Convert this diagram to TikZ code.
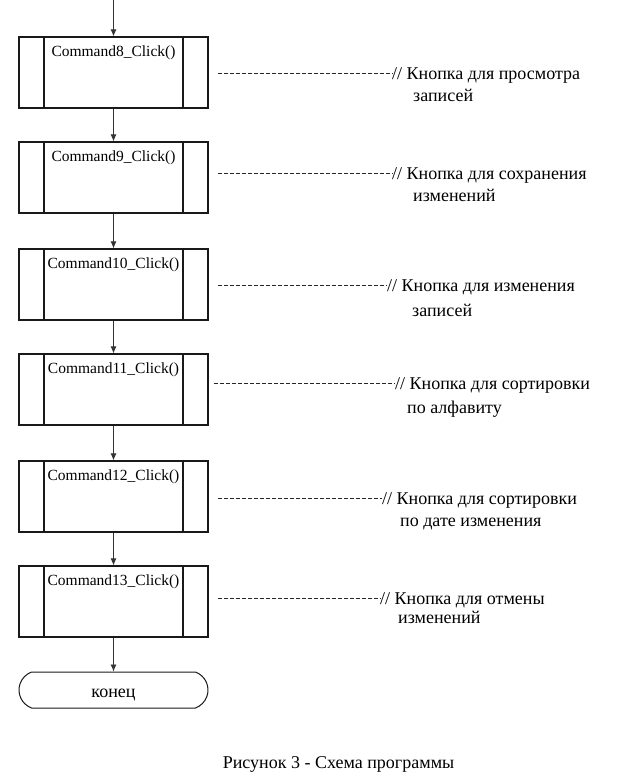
\documentclass[tikz,border=0pt]{standalone}
\usepackage{fontspec}
\setmainfont{Liberation Serif}
\usetikzlibrary{arrows.meta,shapes.misc,calc}
\tikzset{
  proc/.style={draw=black!90, line width=1.2pt, rectangle, minimum width=189pt, minimum height=71pt, inner sep=0pt,
    path picture={\draw[line width=1.2pt] ([xshift=25pt]path picture bounding box.north west) -- ([xshift=25pt]path picture bounding box.south west);
                  \draw[line width=1.2pt] ([xshift=-25pt]path picture bounding box.north east) -- ([xshift=-25pt]path picture bounding box.south east);}},
  cmdtxt/.style={font=\fontsize{15.5}{18}\selectfont, inner sep=0pt, anchor=base},
  term/.style={draw=black!90, line width=1pt, rounded rectangle, rounded rectangle arc length=140, minimum width=189pt, minimum height=36pt, inner sep=0pt, text height=14pt, text depth=0pt, font=\fontsize{18}{20}\selectfont},
  flow/.style={draw=black!80, line width=0.8pt, -{Latex[length=7pt,width=6pt]}},
  dashln/.style={draw=black!85, line width=0.8pt, dash pattern=on 4pt off 2pt},
  cmt/.style={font=\fontsize{18}{20}\selectfont, inner sep=0pt, anchor=base west},
  caption/.style={font=\fontsize{18}{20}\selectfont, inner sep=0pt, anchor=base}
}
\begin{document}
\begin{tikzpicture}[x=1pt,y=-1pt]
\useasboundingbox (0,0) rectangle (616,776);
\coordinate (start) at (113.5,0);
\node[proc, label={[cmdtxt, yshift=-20pt]north:Command8\_Click()}] (b1) at (113.5,72.5) {};
\node[proc, label={[cmdtxt, yshift=-20pt]north:Command9\_Click()}] (b2) at (113.5,177.5) {};
\node[proc, label={[cmdtxt, yshift=-20pt]north:Command10\_Click()}] (b3) at (113.5,284.5) {};
\node[proc, label={[cmdtxt, yshift=-20pt]north:Command11\_Click()}] (b4) at (113.5,389.5) {};
\node[proc, label={[cmdtxt, yshift=-20pt]north:Command12\_Click()}] (b5) at (113.5,496.5) {};
\node[proc, label={[cmdtxt, yshift=-20pt]north:Command13\_Click()}] (b6) at (113.5,601.5) {};
\node[term] (end) at (113.5,690) {конец};

\draw[flow] (start) -- (b1.north);
\draw[flow] (b1.south) -- (b2.north);
\draw[flow] (b2.south) -- (b3.north);
\draw[flow] (b3.south) -- (b4.north);
\draw[flow] (b4.south) -- (b5.north);
\draw[flow] (b5.south) -- (b6.north);
\draw[flow] (b6.south) -- (end.north);

\node[cmt] (c1) at (392,79) {// Кнопка для просмотра};
\node[cmt] (d1) at (413,101) {записей};
\node[cmt] (c2) at (392,179) {// Кнопка для сохранения};
\node[cmt] (d2) at (413,201) {изменений};
\node[cmt] (c3) at (387,291) {// Кнопка для изменения};
\node[cmt] (d3) at (412,316) {записей};
\node[cmt] (c4) at (395,389) {// Кнопка для сортировки};
\node[cmt] (d4) at (407,413) {по алфавиту};
\node[cmt] (c5) at (382,504) {// Кнопка для сортировки};
\node[cmt] (d5) at (400,526) {по дате изменения};
\node[cmt] (c6) at (380,604) {// Кнопка для отмены};
\node[cmt] (d6) at (398,623) {изменений};

\draw[dashln] ($(c1.base west -| b1.east)+(9pt,6pt)$) -- ($(c1.base west)+(0pt,6pt)$);
\draw[dashln] ($(c2.base west -| b2.east)+(9pt,6pt)$) -- ($(c2.base west)+(0pt,6pt)$);
\draw[dashln] ($(c3.base west -| b3.east)+(9pt,6pt)$) -- ($(c3.base west)+(0pt,6pt)$);
\draw[dashln] ($(c4.base west -| b4.east)+(5pt,6pt)$) -- ($(c4.base west)+(0pt,6pt)$);
\draw[dashln] ($(c5.base west -| b5.east)+(9pt,6pt)$) -- ($(c5.base west)+(0pt,6pt)$);
\draw[dashln] ($(c6.base west -| b6.east)+(9pt,6pt)$) -- ($(c6.base west)+(0pt,6pt)$);

\node[caption] (cap) at (338.5,768) {Рисунок 3 - Схема программы};
\end{tikzpicture}
\end{document}
